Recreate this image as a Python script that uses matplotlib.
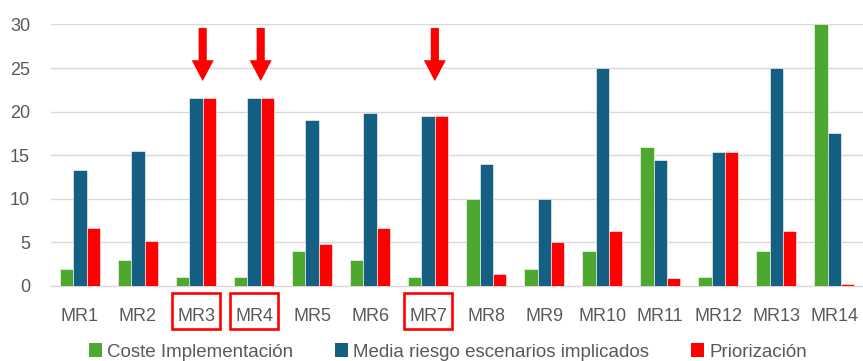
import matplotlib
matplotlib.use("Agg")
import matplotlib.pyplot as plt
from matplotlib.patches import FancyArrow, Patch, Rectangle
from matplotlib.transforms import blended_transform_factory
import numpy as np

categories = ["MR1", "MR2", "MR3", "MR4", "MR5", "MR6", "MR7",
              "MR8", "MR9", "MR10", "MR11", "MR12", "MR13", "MR14"]
coste = [2, 3, 1, 1, 4, 3, 1, 10, 2, 4, 16, 1, 4, 30]
media_riesgo = [13.3, 15.5, 21.6, 21.6, 19.0, 19.8, 19.45,
                14.0, 10.0, 25.0, 14.5, 15.4, 25.0, 17.6]
priorizacion = [6.6, 5.2, 21.6, 21.6, 4.8, 6.6, 19.45,
                1.4, 5.1, 6.3, 0.95, 15.4, 6.3, 0.25]
highlighted = ["MR3", "MR4", "MR7"]
yticks = [0, 5, 10, 15, 20, 25, 30]

series_names = ["Coste Implementación",
                "Media riesgo escenarios implicados",
                "Priorización"]
colors = ["#4EA72E", "#156082", "#FF0000"]
text_color = "#595959"

plt.rcParams["font.family"] = ["Liberation Sans", "DejaVu Sans"]

fig = plt.figure(figsize=(8.63, 3.61), dpi=100)
ax = fig.add_axes([0.059, 0.2078, 0.9415, 0.7244])

x = np.arange(len(categories))
w = 0.23
for i, (vals, col) in enumerate(zip([coste, media_riesgo, priorizacion], colors)):
    ax.bar(x + (i - 1) * w, vals, width=w, color=col,
           edgecolor="white", linewidth=0.4, zorder=3)

ax.set_xlim(-0.5, len(categories) - 0.5)
ax.set_ylim(0, 30)
ax.set_yticks(yticks)
ax.set_xticks(x)
ax.set_xticklabels(categories)
ax.grid(axis="y", color="#D9D9D9", linewidth=1.0, zorder=0)
for s in ["top", "right", "left"]:
    ax.spines[s].set_visible(False)
ax.spines["bottom"].set_color("#D9D9D9")
ax.spines["bottom"].set_linewidth(1.0)
ax.tick_params(axis="both", length=0, colors=text_color, labelsize=13)
ax.tick_params(axis="y", pad=15)
ax.tick_params(axis="x", pad=16)

# boxes around selected measures' labels
trans = blended_transform_factory(ax.transData, ax.transAxes)
for name in highlighted:
    xi = categories.index(name)
    ax.add_patch(Rectangle((xi - 0.41, -0.164), 0.82, 0.137, transform=trans,
                           facecolor="none", edgecolor="#FF0000",
                           linewidth=1.9, clip_on=False, zorder=6))

# arrows pointing at selected measures
for name in highlighted:
    xi = categories.index(name)
    arr = FancyArrow(xi + 0.115, 29.6, 0, -6.1, width=0.14, head_width=0.38,
                     head_length=2.4, length_includes_head=True,
                     color="#FF0000", linewidth=0, zorder=5, clip_on=False)
    ax.add_patch(arr)

handles = [Patch(facecolor=c, edgecolor="none") for c in colors]
fig.legend(handles, series_names, loc="center", bbox_to_anchor=(0.519, 0.025),
           ncol=3, frameon=False, fontsize=13.5, handlelength=0.7,
           handleheight=0.7, handletextpad=0.3, columnspacing=2.2,
           labelcolor=text_color, borderpad=0)

fig.savefig("out.png", dpi=100)
